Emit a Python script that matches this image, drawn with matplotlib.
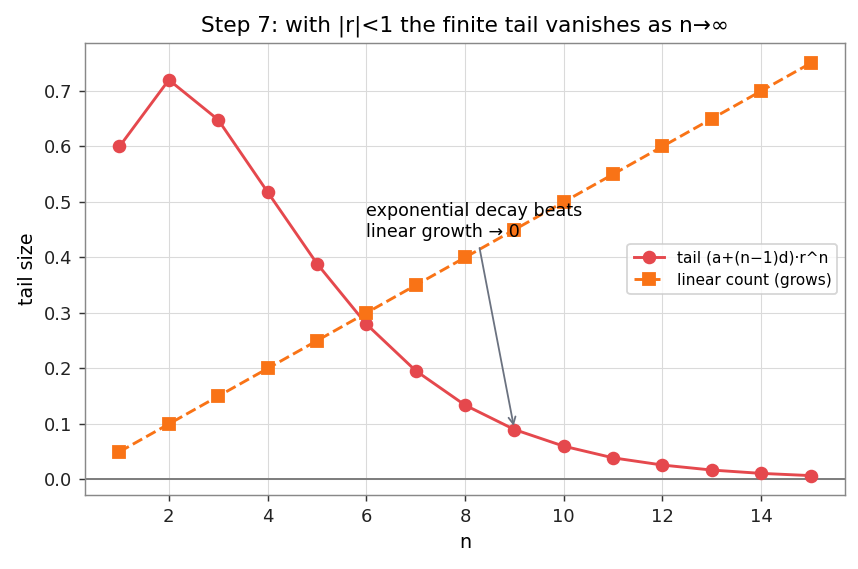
import matplotlib
matplotlib.use("Agg")
from matplotlib import pyplot as plt
import numpy as np

n = [1, 2, 3, 4, 5, 6, 7, 8, 9, 10, 11, 12, 13, 14, 15]
tail = [0.600, 0.720, 0.648, 0.518, 0.389, 0.280, 0.196, 0.134, 0.090,
        0.060, 0.039, 0.026, 0.017, 0.011, 0.007]
linear = [0.05, 0.10, 0.15, 0.20, 0.25, 0.30, 0.35, 0.40, 0.45,
          0.50, 0.55, 0.60, 0.65, 0.70, 0.75]

plt.rcParams['font.family'] = ['DejaVu Sans']
fig, ax = plt.subplots(figsize=(6.6, 4.377), dpi=130)

ax.plot(n, tail, color='#e5484d', marker='o', markersize=6.5, linewidth=1.6,
        label='tail (a+(n\u22121)d)\u00b7r^n', zorder=3)
ax.plot(n, linear, color='#f97316', marker='s', markersize=6.5, linewidth=1.6,
        linestyle='--', label='linear count (grows)', zorder=3)
ax.axhline(0, color='#7f7f7f', linewidth=1.1, zorder=2)

ax.annotate('exponential decay beats\nlinear growth \u2192 0', xy=(n[8], tail[8]),
            xytext=(6, 0.43), ha='left', va='bottom', fontsize=9.7,
            arrowprops=dict(arrowstyle='->', color='#6b7280', lw=1.0))

ax.set_title('Step 7: with |r|<1 the finite tail vanishes as n\u2192\u221e', fontsize=12)
ax.set_xlabel('n', fontsize=10.5)
ax.set_ylabel('tail size', fontsize=10.5)
ax.set_xticks([2, 4, 6, 8, 10, 12, 14])
ax.set_ylim(-0.028, 0.787)
ax.grid(True, color='#dadada', linewidth=0.6)
ax.set_axisbelow(True)
for s in ax.spines.values():
    s.set_color('#888888')
ax.tick_params(colors='#333333', labelsize=10, labelcolor='#222222')
ax.legend(loc='center right', fontsize=8.5, bbox_to_anchor=(1.0, 0.5))

fig.subplots_adjust(left=0.099, right=0.985, top=0.925, bottom=0.13)
fig.savefig('out.png', dpi=130)
